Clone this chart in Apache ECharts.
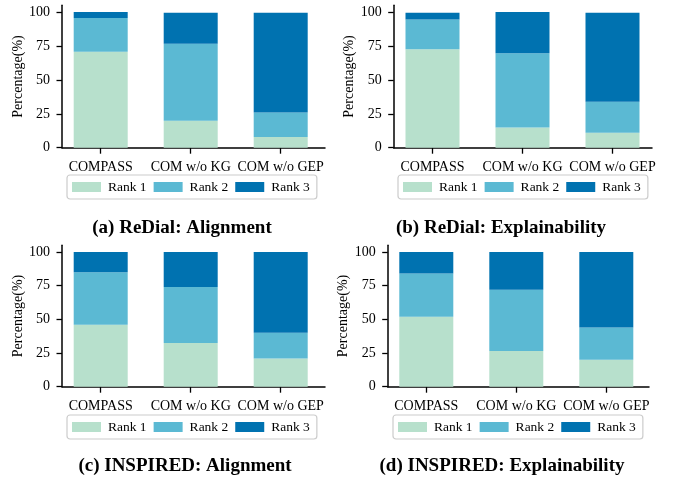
<!DOCTYPE html>
<html>
<head>
<meta charset="utf-8">
<script src="https://cdn.jsdelivr.net/npm/echarts@6/dist/echarts.min.js"></script>
<style>html,body{margin:0;padding:0;background:#fff}#c{width:677px;height:482px}</style>
</head>
<body>
<div id="c"></div>
<script>
const categories = ['COMPASS', 'COM w/o KG', 'COM w/o GEP'];
const rankNames = ['Rank 1', 'Rank 2', 'Rank 3'];
const yTicks = [0, 25, 50, 75, 100];
const captions = ['(a) ReDial: Alignment', '(b) ReDial: Explainability', '(c) INSPIRED: Alignment', '(d) INSPIRED: Explainability'];

// (a) ReDial: Alignment
const redialAlignRank1 = [71, 20, 8];
const redialAlignRank2 = [25, 57, 18];
const redialAlignRank3 = [4.5, 23, 74];
// (b) ReDial: Explainability
const redialExplRank1 = [73, 15, 11];
const redialExplRank2 = [22, 55, 23];
const redialExplRank3 = [5, 30.5, 66];
// (c) INSPIRED: Alignment
const inspAlignRank1 = [46, 32.5, 21];
const inspAlignRank2 = [39, 41.5, 19];
const inspAlignRank3 = [15, 26, 60];
// (d) INSPIRED: Explainability
const inspExplRank1 = [52, 26.5, 20];
const inspExplRank2 = [32, 45.5, 24];
const inspExplRank3 = [16, 28, 56];

const colors = ['#b7e0cc', '#5bb9d3', '#0072b0'];
const FONT = 'Liberation Serif';

const panels = [
  {data: [redialAlignRank1, redialAlignRank2, redialAlignRank3], max: 105.5, barLeft: 55.7, axisLeft: 62, axisRight: 325, zeroY: 147.7, ppu: 1.35, legLeft: 67, legTop: 175, capX: 182, capY: 228},
  {data: [redialExplRank1, redialExplRank2, redialExplRank3], max: 105.5, barLeft: 387.5, axisLeft: 393.7, axisRight: 652, zeroY: 147.7, ppu: 1.35, legLeft: 398, legTop: 175, capX: 501, capY: 228},
  {data: [inspAlignRank1, inspAlignRank2, inspAlignRank3], max: 105, barLeft: 55.7, axisLeft: 62, axisRight: 325, zeroY: 386.7, ppu: 1.347, legLeft: 67, legTop: 415, capX: 185, capY: 466},
  {data: [inspExplRank1, inspExplRank2, inspExplRank3], max: 105, barLeft: 381.3, axisLeft: 387.7, axisRight: 649, zeroY: 386.7, ppu: 1.347, legLeft: 393, legTop: 415, capX: 502, capY: 466}
];

const W = 677, H = 482;
const grid = [], xAxis = [], yAxis = [], series = [], legend = [], graphic = [];

panels.forEach((p, i) => {
  const height = p.max * p.ppu;
  const top = p.zeroY - height;
  const bottom = H - p.zeroY;
  grid.push({left: p.barLeft, width: 270, top: top, bottom: bottom});
  grid.push({left: p.axisLeft, right: W - p.axisRight, top: top, bottom: bottom});
  const gb = 2 * i, ga = 2 * i + 1;
  xAxis.push({
    type: 'category', gridIndex: gb, data: categories,
    axisLine: {show: false},
    axisTick: {show: true, alignWithLabel: true, length: 6, lineStyle: {color: '#000', width: 1.3}},
    axisLabel: {color: '#000', fontFamily: FONT, fontSize: 14, margin: 13, interval: 0}
  });
  yAxis.push({type: 'value', gridIndex: gb, min: 0, max: p.max, show: false});
  xAxis.push({
    type: 'value', gridIndex: ga, min: 0, max: 1,
    axisLine: {show: true, lineStyle: {color: '#000', width: 1.5}},
    axisTick: {show: false}, axisLabel: {show: false}, splitLine: {show: false}
  });
  yAxis.push({
    type: 'value', gridIndex: ga, min: 0, max: p.max,
    name: 'Percentage(%)', nameLocation: 'middle', nameGap: 33,
    nameTextStyle: {color: '#000', fontFamily: FONT, fontSize: 14},
    axisLine: {show: true, lineStyle: {color: '#000', width: 1.5}},
    axisTick: {show: true, length: 5.5, lineStyle: {color: '#000', width: 1.3}, customValues: yTicks},
    axisLabel: {color: '#000', fontFamily: FONT, fontSize: 14, margin: 12, customValues: yTicks},
    splitLine: {show: false}
  });
  p.data.forEach((vals, k) => {
    series.push({
      type: 'bar', name: rankNames[k], xAxisIndex: gb, yAxisIndex: gb,
      stack: 'p' + i, data: vals, barWidth: 54,
      itemStyle: {color: colors[k]}, emphasis: {disabled: true}
    });
  });
  legend.push({
    data: rankNames, left: p.legLeft, top: p.legTop,
    orient: 'horizontal', itemWidth: 29, itemHeight: 10, itemGap: 7,
    padding: [5, 7, 5, 5], borderColor: '#cccccc', borderWidth: 1.2, borderRadius: 3,
    icon: 'rect', selectedMode: false,
    textStyle: {color: '#000', fontFamily: FONT, fontSize: 13.5, padding: [0, 0, 0, 2]}
  });
  graphic.push({
    type: 'text', x: p.capX, y: p.capY,
    style: {text: captions[i], fill: '#000', font: 'bold 19px "Liberation Serif"', textAlign: 'center', textVerticalAlign: 'middle'}
  });
});

const chart = echarts.init(document.getElementById('c'), null, {renderer: 'canvas'});
chart.setOption({
  animation: false,
  color: colors,
  grid, xAxis, yAxis, series, legend, graphic
});
</script>
</body>
</html>
